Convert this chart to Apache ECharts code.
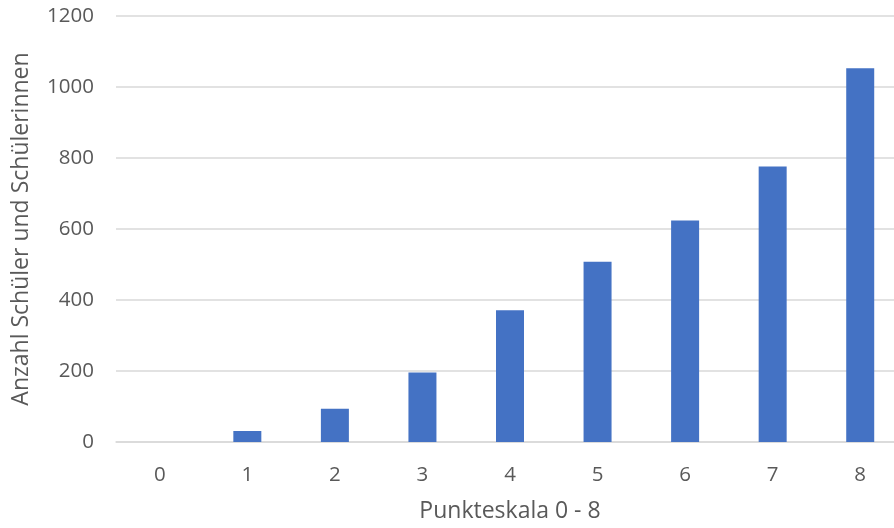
<!DOCTYPE html>
<html>
<head>
<meta charset="utf-8">
<script src="https://cdn.jsdelivr.net/npm/echarts@6/dist/echarts.min.js"></script>
<style>
html,body{margin:0;padding:0;background:#fff;overflow:hidden;}
#chart{width:904px;height:528px;}
</style>
</head>
<body>
<div id="chart"></div>
<script>
const categories = ['0','1','2','3','4','5','6','7','8'];
const values = [0, 31, 94, 196, 371, 508, 624, 776, 1053];
const yTicks = [0, 200, 400, 600, 800, 1000, 1200];
const xTitle = 'Punkteskala 0 - 8';
const yTitle = 'Anzahl Schüler und Schülerinnen';

const font = '"Open Sans", "Noto Sans", sans-serif';
const textColor = '#595959';
const chart = echarts.init(document.getElementById('chart'));
chart.setOption({
  animation: false,
  grid: { left: 116, right: 0, top: 16, bottom: 84, containLabel: false },
  xAxis: {
    type: 'category',
    data: categories,
    name: xTitle,
    nameLocation: 'middle',
    nameGap: 58,
    nameTextStyle: { color: textColor, fontSize: 23, fontFamily: font },
    axisLine: { show: true, lineStyle: { color: '#d9d9d9', width: 1.5 } },
    axisTick: { show: false },
    axisLabel: { color: textColor, fontSize: 20.5, fontFamily: font, margin: 23 }
  },
  yAxis: {
    type: 'value',
    min: yTicks[0],
    max: yTicks[yTicks.length - 1],
    interval: 200,
    name: yTitle,
    nameLocation: 'middle',
    nameGap: 83,
    nameTextStyle: { color: textColor, fontSize: 23, fontFamily: font },
    axisLine: { show: false },
    axisTick: { show: false },
    axisLabel: { color: textColor, fontSize: 20.5, fontFamily: font, margin: 22, formatter: function (v) { return String(v); } },
    splitLine: { lineStyle: { color: '#d9d9d9', width: 1.5 } }
  },
  series: [{
    type: 'bar',
    data: values,
    barWidth: 28,
    itemStyle: { color: '#4472c4' }
  }]
});
</script>
</body>
</html>
